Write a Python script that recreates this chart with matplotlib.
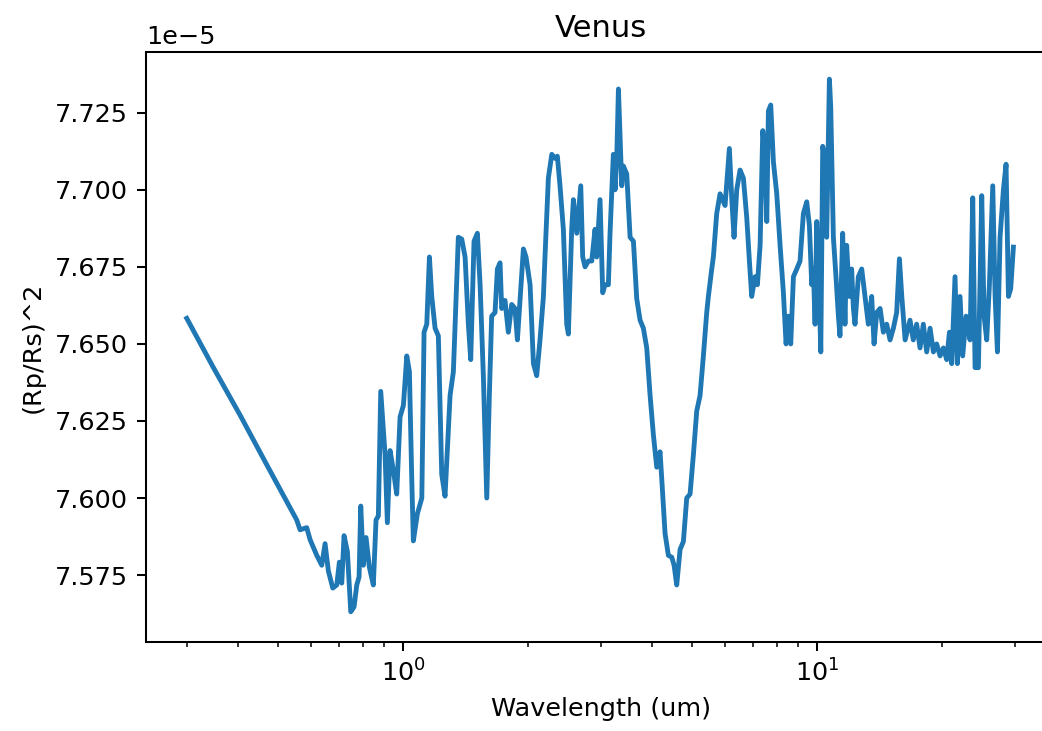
#!/usr/bin/env python
# Transmission spectrum of Venus, (Rp/Rs)^2 against wavelength on a log axis.

import numpy as np
import matplotlib
matplotlib.use('Agg')
import matplotlib.pyplot as plt

DPI = 183.4

# wavelength in um
wavelength = [
    0.3003, 0.348, 0.404, 0.4686, 0.5535, 0.5640, 0.5853, 0.5963, 0.6189, 0.6363,
    0.6481, 0.6602, 0.6765, 0.6917, 0.7018, 0.7111, 0.7203, 0.7337, 0.7477, 0.7615,
    0.7731, 0.7830, 0.7904, 0.8019, 0.8140, 0.8291, 0.8477, 0.8605, 0.8717, 0.8833,
    0.9048, 0.9165, 0.9303, 0.9475, 0.9654, 0.9835, 1.002, 1.021, 1.036, 1.049,
    1.059, 1.083, 1.110, 1.124, 1.141, 1.158, 1.173, 1.195, 1.217, 1.240,
    1.263, 1.299, 1.323, 1.360, 1.386, 1.412, 1.438, 1.457, 1.484, 1.512,
    1.535, 1.563, 1.593, 1.616, 1.637, 1.668, 1.690, 1.715, 1.731, 1.763,
    1.796, 1.830, 1.864, 1.889, 1.917, 1.953, 1.982, 2.027, 2.065, 2.103,
    2.142, 2.183, 2.203, 2.244, 2.287, 2.329, 2.359, 2.394, 2.439, 2.485,
    2.508, 2.555, 2.579, 2.628, 2.687, 2.716, 2.752, 2.803, 2.856, 2.909,
    2.936, 2.991, 3.036, 3.075, 3.133, 3.162, 3.221, 3.252, 3.282, 3.313,
    3.343, 3.375, 3.406, 3.470, 3.535, 3.601, 3.668, 3.737, 3.806, 3.878,
    3.951, 4.024, 4.100, 4.176, 4.215, 4.294, 4.374, 4.457, 4.515, 4.582,
    4.668, 4.755, 4.844, 4.935, 5.027, 5.121, 5.217, 5.314, 5.414, 5.464,
    5.567, 5.618, 5.723, 5.831, 5.885, 5.995, 6.141, 6.221, 6.302, 6.397,
    6.516, 6.638, 6.763, 6.864, 6.953, 7.084, 7.177, 7.285, 7.394, 7.490,
    7.560, 7.630, 7.729, 7.845, 7.992, 8.141, 8.293, 8.417, 8.527, 8.639,
    8.768, 8.932, 9.097, 9.268, 9.442, 9.583, 9.708, 9.797, 9.890, 9.982,
    10.07, 10.21, 10.32, 10.45, 10.55, 10.71, 10.79, 10.95, 11.11, 11.26,
    11.36, 11.53, 11.68, 11.79, 11.97, 12.12, 12.24, 12.35, 12.58, 12.82,
    13.06, 13.30, 13.55, 13.73, 13.94, 14.20, 14.46, 14.73, 15.01, 15.29,
    15.57, 15.81, 16.02, 16.32, 16.77, 17.08, 17.40, 17.73, 18.06, 18.40,
    18.75, 19.10, 19.45, 19.82, 20.19, 20.57, 20.88, 21.15, 21.54, 21.83,
    22.15, 22.48, 22.91, 23.42, 23.77, 24.08, 24.53, 24.99, 25.32, 25.69,
    26.08, 26.57, 26.92, 27.27, 27.67, 28.19, 28.61, 28.99, 29.36, 29.80,
]

# (Rp/Rs)^2 in units of 1e-5
depth = [
    7.6583, 7.6424, 7.6269, 7.6108, 7.5929, 7.5897, 7.5904, 7.5865, 7.5814, 7.5782,
    7.5852, 7.5763, 7.5708, 7.5718, 7.5792, 7.5724, 7.5878, 7.5827, 7.5631, 7.5647,
    7.5718, 7.5744, 7.5974, 7.5782, 7.5872, 7.5776, 7.5718, 7.5929, 7.5942, 7.6346,
    7.6141, 7.5920, 7.6154, 7.6090, 7.6013, 7.6263, 7.6301, 7.6461, 7.6410, 7.6077,
    7.5861, 7.5949, 7.6000, 7.6538, 7.6564, 7.6782, 7.6654, 7.6551, 7.6526, 7.6077,
    7.6006, 7.6333, 7.6410, 7.6846, 7.6840, 7.6782, 7.6564, 7.6449, 7.6833, 7.6859,
    7.6692, 7.6397, 7.6000, 7.6333, 7.6590, 7.6602, 7.6743, 7.6763, 7.6615, 7.6641,
    7.6538, 7.6628, 7.6615, 7.6513, 7.6641, 7.6808, 7.6782, 7.6692, 7.6436, 7.6397,
    7.6513, 7.6654, 7.6788, 7.7038, 7.7115, 7.7102, 7.7109, 7.7013, 7.6872, 7.6564,
    7.6532, 7.6872, 7.6968, 7.6859, 7.7013, 7.6782, 7.6750, 7.6769, 7.6769, 7.6872,
    7.6782, 7.6968, 7.6666, 7.6692, 7.6692, 7.6859, 7.7115, 7.7000, 7.7102, 7.7327,
    7.7179, 7.7013, 7.7077, 7.7051, 7.6846, 7.6833, 7.6647, 7.6577, 7.6551, 7.6487,
    7.6333, 7.6205, 7.6100, 7.6150, 7.6064, 7.5885, 7.5814, 7.5808, 7.5782, 7.5718,
    7.5833, 7.5859, 7.6000, 7.6013, 7.6141, 7.6282, 7.6333, 7.6461, 7.6602, 7.6654,
    7.6743, 7.6782, 7.6923, 7.6987, 7.6974, 7.6949, 7.7134, 7.6974, 7.6846, 7.7000,
    7.7064, 7.7038, 7.6910, 7.6769, 7.6654, 7.6718, 7.6692, 7.6820, 7.7192, 7.7115,
    7.6897, 7.7256, 7.7275, 7.7090, 7.6987, 7.6820, 7.6666, 7.6500, 7.6590, 7.6500,
    7.6718, 7.6743, 7.6769, 7.6923, 7.6961, 7.6884, 7.6692, 7.6743, 7.6564, 7.6897,
    7.6769, 7.6474, 7.7141, 7.7102, 7.6846, 7.7359, 7.7269, 7.6846, 7.6718, 7.6590,
    7.6526, 7.6859, 7.6564, 7.6820, 7.6654, 7.6743, 7.6615, 7.6564, 7.6718, 7.6743,
    7.6654, 7.6564, 7.6654, 7.6500, 7.6602, 7.6615, 7.6538, 7.6564, 7.6513, 7.6551,
    7.6602, 7.6776, 7.6654, 7.6513, 7.6577, 7.6513, 7.6564, 7.6487, 7.6564, 7.6474,
    7.6551, 7.6474, 7.6500, 7.6461, 7.6487, 7.6449, 7.6538, 7.6436, 7.6718, 7.6436,
    7.6654, 7.6461, 7.6590, 7.6513, 7.6974, 7.6423, 7.6423, 7.6981, 7.6590, 7.6513,
    7.6692, 7.7013, 7.6654, 7.6474, 7.6846, 7.7000, 7.7083, 7.6654, 7.6679, 7.6814,
]


def main():
    fig = plt.figure(figsize=(1042 / DPI, 731 / DPI), dpi=DPI)
    # the original picture is cropped on the right, so the axes run past the edge
    ax = fig.add_axes([146 / 1042, 1 - 642 / 731, 910 / 1042, 590 / 731])

    ax.plot(np.array(wavelength), np.array(depth) * 1e-5, lw=1.9)
    ax.set_xscale('log')
    ax.set_xlim(0.2394, 37.77)
    ax.set_ylim(7.5533e-5, 7.7447e-5)

    ax.set_title('Venus')
    ax.set_xlabel('Wavelength (um)')
    ax.set_ylabel('(Rp/Rs)^2')

    fig.savefig('out.png', dpi=DPI)


if __name__ == '__main__':
    main()
